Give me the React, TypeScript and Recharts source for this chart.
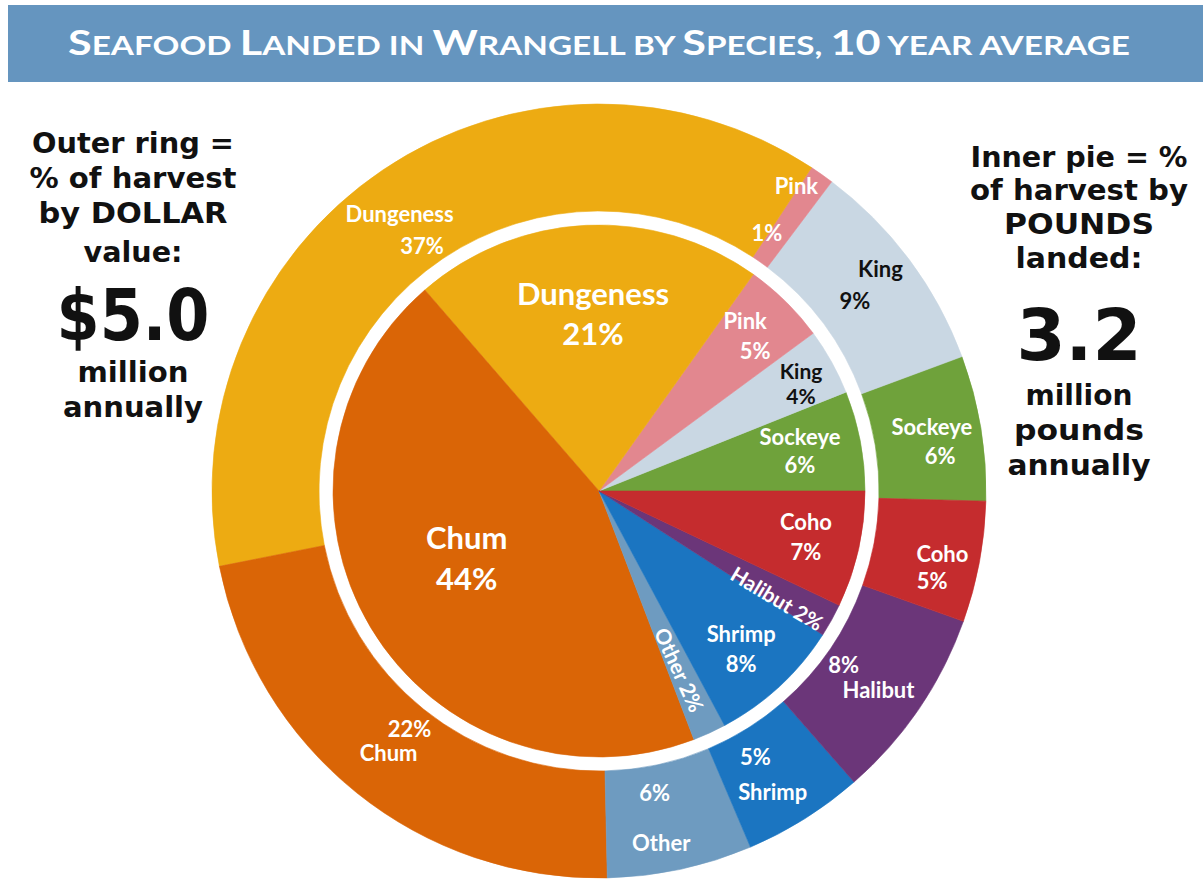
import React from 'react';
import { PieChart, Pie, Cell } from 'recharts';

// ---- data ----
const species = ['Sockeye', 'King', 'Pink', 'Dungeness', 'Chum', 'Other', 'Shrimp', 'Halibut', 'Coho'];
const dollarShare = [6, 9, 1, 37, 22, 6, 5, 8, 5]; // outer ring, % of harvest by dollar value
const poundShare = [6, 4, 5, 21, 44, 2, 8, 2, 7]; // inner pie, % of harvest by pounds landed
const speciesColors = ['#6FA23B', '#C9D7E3', '#E2878F', '#EDAB12', '#DA6506', '#6E9BC0', '#1B75C1', '#6B3679', '#C52C2E'];
const darkLabelSpecies = ['King'];

const titleWords = [
  ['S', 'EAFOOD'], ['L', 'ANDED'], ['', 'IN'], ['W', 'RANGELL'], ['', 'BY'], ['S', 'PECIES,'], ['10', ''], ['', 'YEAR'], ['', 'AVERAGE'],
];
const leftLines = ['Outer ring =', '% of harvest', 'by DOLLAR', 'value:'];
const leftBig = '$5.0';
const leftTail = ['million', 'annually'];
const rightLines = ['Inner pie = %', 'of harvest by', 'POUNDS', 'landed:'];
const rightBig = '3.2';
const rightTail = ['million', 'pounds', 'annually'];

const outerData = species.map((name, i) => ({ name, value: dollarShare[i] }));
const innerData = species.map((name, i) => ({ name, value: poundShare[i] }));

// ---- layout (kept apart from the data) ----
const leftLayout = { x: 133, lineY: [153, 188, 223, 262], lineW: [202, 207, 189, 99], bigY: 340, bigW: 153, tailY: [382, 417], tailW: [111, 140] };
const rightLayout = { x: 1079, lineY: [167, 200, 234, 268], lineW: [217, 218, 150, 127], bigY: 360, bigW: 125, tailY: [405, 440, 475], tailW: [107, 130, 143] };

const outerLabelLayout: Record<string, { name: [number, number]; pct: [number, number] }> = {
  Sockeye: { name: [1.5, 339], pct: [-3.4, 343] },
  King: { name: [1.7, 359], pct: [0, 319] },
  Pink: { name: [2.3, 364], pct: [2.1, 308] },
  Dungeness: { name: [1.7, 342], pct: [1.8, 303] },
  Chum: { name: [0, 336], pct: [0.2, 304] },
  Other: { name: [-2.1, 357], pct: [-1.7, 307] },
  Shrimp: { name: [-2.1, 347], pct: [-1.6, 308] },
  Halibut: { name: [-1.2, 343], pct: [-1.1, 300] },
  Coho: { name: [0.3, 349], pct: [-4.4, 345] },
};

const innerLabelLayout: Record<string, { da: number; r: number; gap?: number; size: number; radial?: boolean; shift?: number }> = {
  Sockeye: { da: 0.4, r: 205, gap: 28, size: 22 },
  King: { da: -1, r: 229, gap: 25, size: 21 },
  Pink: { da: 0.4, r: 217, gap: 30, size: 22, shift: 5 },
  Dungeness: { da: -0.8, r: 178, gap: 40, size: 31 },
  Chum: { da: -4.3, r: 148, gap: 41, size: 31 },
  Other: { da: -0.2, r: 196, size: 21, radial: true },
  Shrimp: { da: -0.6, r: 212, gap: 30, size: 22 },
  Halibut: { da: -1.9, r: 208, size: 21, radial: true },
  Coho: { da: 0.2, r: 212, gap: 30, size: 22 },
};

const FONT = "Lato, 'Open Sans', sans-serif";
const SIDE_FONT = "'DejaVu Sans', Lato, sans-serif";
const RAD = Math.PI / 180;
const CX = 599;
const CY = 491;

const polar = (cx: number, cy: number, r: number, a: number) => ({
  x: cx + r * Math.cos(-a * RAD),
  y: cy + r * Math.sin(-a * RAD),
});

const getName = (p: any) => (p.payload && p.payload.name) || p.name;
const getValue = (p: any) => (p.payload && p.payload.value != null ? p.payload.value : p.value);

const renderOuterLabel = (props: any) => {
  const cx = props.cx ?? CX;
  const cy = props.cy ?? CY;
  const name = getName(props);
  const value = getValue(props);
  const lay = outerLabelLayout[name];
  if (!lay) return null;
  const fill = darkLabelSpecies.includes(name) ? '#111' : '#fff';
  const pn = polar(cx, cy, lay.name[1], props.midAngle + lay.name[0]);
  const pp = polar(cx, cy, lay.pct[1], props.midAngle + lay.pct[0]);
  const common = { textAnchor: 'middle' as const, dominantBaseline: 'central' as const, fontFamily: FONT, fontWeight: 700, fontSize: 22, fill };
  return (
    <g key={`ol-${name}`}>
      <text x={pn.x} y={pn.y} {...common}>{name}</text>
      <text x={pp.x} y={pp.y} {...common}>{`${value}%`}</text>
    </g>
  );
};

const renderInnerLabel = (props: any) => {
  const cx = props.cx ?? CX;
  const cy = props.cy ?? CY;
  const name = getName(props);
  const value = getValue(props);
  const lay = innerLabelLayout[name];
  if (!lay) return null;
  const fill = darkLabelSpecies.includes(name) ? '#111' : '#fff';
  const a = props.midAngle + lay.da;
  const p = polar(cx, cy, lay.r, a);
  const common = { textAnchor: 'middle' as const, dominantBaseline: 'central' as const, fontFamily: FONT, fontWeight: 700, fontSize: lay.size, fill };
  if (lay.radial) {
    return (
      <text key={`il-${name}`} x={p.x} y={p.y} {...common} transform={`rotate(${-a} ${p.x} ${p.y})`}>
        {`${name} ${value}%`}
      </text>
    );
  }
  const g = (lay.gap ?? 30) / 2;
  const s = lay.shift ?? 0;
  return (
    <g key={`il-${name}`}>
      <text x={p.x - s} y={p.y - g} {...common}>{name}</text>
      <text x={p.x + s} y={p.y + g} {...common}>{`${value}%`}</text>
    </g>
  );
};

const SideText = ({ lay, lines, big, tail }: any) => (
  <g fontFamily={SIDE_FONT} fontWeight={700} fill="#111" textAnchor="middle">
    {lines.map((t: string, i: number) => (
      <text key={t} x={lay.x} y={lay.lineY[i]} fontSize={29} textLength={lay.lineW[i]} lengthAdjust="spacingAndGlyphs">{t}</text>
    ))}
    <text x={lay.x} y={lay.bigY} fontSize={72} textLength={lay.bigW} lengthAdjust="spacingAndGlyphs">{big}</text>
    {tail.map((t: string, i: number) => (
      <text key={t} x={lay.x} y={lay.tailY[i]} fontSize={29} textLength={lay.tailW[i]} lengthAdjust="spacingAndGlyphs">{t}</text>
    ))}
  </g>
);

export default function App() {
  return (
    <div style={{ position: 'absolute', left: 0, top: 0, width: 1203, height: 882, background: '#fff', overflow: 'hidden' }}>
      <svg width={1203} height={882} style={{ position: 'absolute', left: 0, top: 0 }}>
        <rect x={8} y={5} width={1195} height={77} fill="#6595BF" />
        <text x={599} y={55} textAnchor="middle" fontFamily={FONT} fontWeight={700} fill="#fff" textLength={1062} lengthAdjust="spacingAndGlyphs">
          {titleWords.map(([big, small], i) => (
            <React.Fragment key={i}>
              {big ? <tspan fontSize={35}>{big}</tspan> : null}
              {small ? <tspan fontSize={27}>{small}</tspan> : null}
              {i < titleWords.length - 1 ? <tspan fontSize={27}>{' '}</tspan> : null}
            </React.Fragment>
          ))}
        </text>
        <SideText lay={leftLayout} lines={leftLines} big={leftBig} tail={leftTail} />
        <SideText lay={rightLayout} lines={rightLines} big={rightBig} tail={rightTail} />
      </svg>
      <div style={{ position: 'absolute', left: 0, top: 0 }}>
        <PieChart width={1203} height={882} margin={{ top: 0, right: 0, bottom: 0, left: 0 }}>
          <Pie
            data={outerData}
            dataKey="value"
            nameKey="name"
            cx={CX}
            cy={CY}
            innerRadius={280}
            outerRadius={387}
            startAngle={-1.5}
            endAngle={358.5}
            isAnimationActive={false}
            label={renderOuterLabel}
            labelLine={false}
          >
            {outerData.map((d, i) => (
              <Cell key={d.name} fill={speciesColors[i]} stroke={speciesColors[i]} strokeWidth={0.6} />
            ))}
          </Pie>
          <Pie
            data={innerData}
            dataKey="value"
            nameKey="name"
            cx={CX}
            cy={CY}
            innerRadius={0}
            outerRadius={266}
            startAngle={0}
            endAngle={360}
            isAnimationActive={false}
            label={renderInnerLabel}
            labelLine={false}
          >
            {innerData.map((d, i) => (
              <Cell key={d.name} fill={speciesColors[i]} stroke={speciesColors[i]} strokeWidth={0.6} />
            ))}
          </Pie>
        </PieChart>
      </div>
    </div>
  );
}
